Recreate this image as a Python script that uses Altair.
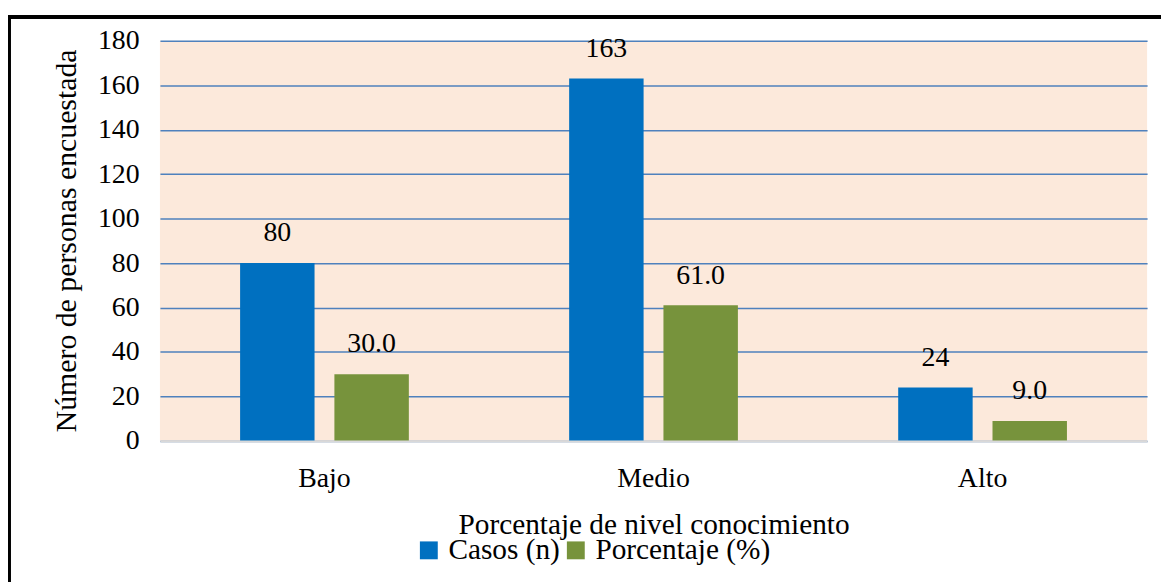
import altair as alt
import pandas as pd

categories = ["Bajo", "Medio", "Alto"]
series = ["Casos (n)", "Porcentaje (%)"]
casos = [80, 163, 24]
porcentaje = [30.0, 61.0, 9.0]
y_ticks = [0, 20, 40, 60, 80, 100, 120, 140, 160, 180]

rows = []
for c, n, p in zip(categories, casos, porcentaje):
    rows.append({"nivel": c, "serie": series[0], "valor": n, "etiqueta": f"{n}"})
    rows.append({"nivel": c, "serie": series[1], "valor": p, "etiqueta": f"{p:.1f}"})
df = pd.DataFrame(rows)

FONT = "Liberation Serif"
W, H = 994, 403
PAD_L, PAD_T = 153, 31

x = alt.X("nivel:N", sort=categories, scale=alt.Scale(paddingInner=0, paddingOuter=0),
          axis=alt.Axis(title="Porcentaje de nivel conocimiento", labelAngle=0, ticks=False,
                        domainColor="#D9D9D9", domainWidth=2, labelPadding=24,
                        titleY=70, titleBaseline="top", titleFontSize=29.5, zindex=1))
xo = alt.XOffset("serie:N", sort=series,
                 scale=alt.Scale(paddingInner=0.2105, paddingOuter=0.85))
color = alt.Color("serie:N", sort=series,
                  scale=alt.Scale(domain=series, range=["#0070C0", "#77933C"]),
                  legend=alt.Legend(title=None, orient="none", direction="horizontal",
                                    legendX=256, legendY=498, symbolType="square",
                                    symbolSize=324, symbolStrokeWidth=0,
                                    labelFontSize=29.5, labelFont=FONT, labelOffset=5,
                                    labelLimit=0, columnPadding=1, padding=0,
                                    labelColor="black"))
y = alt.Y("valor:Q", scale=alt.Scale(domain=[0, 180], nice=False),
          axis=alt.Axis(title="Número de personas encuestada", values=y_ticks, ticks=False,
                        domain=False, labelPadding=21, gridColor="#4F81BD", gridWidth=1.5,
                        titleX=-94, titleY=201, titleAngle=-90, titleBaseline="middle",
                        titleAlign="center", titleFontSize=30))

bars = alt.Chart(df).mark_bar().encode(x=x, xOffset=xo, y=y, color=color)
labels = alt.Chart(df).mark_text(font=FONT, fontSize=28, dy=-22, baseline="alphabetic",
                                 color="black").encode(
    x=alt.X("nivel:N", sort=categories), xOffset=alt.XOffset("serie:N", sort=series),
    y=alt.Y("valor:Q"), text="etiqueta:N")

frame_df = pd.DataFrame({"k": [0]})
top_line = alt.Chart(frame_df).mark_rule(color="black", strokeWidth=4, strokeCap="butt").encode(
    x=alt.value(-153), x2=alt.value(1010), y=alt.value(-24))
left_line = alt.Chart(frame_df).mark_rule(color="black", strokeWidth=4, strokeCap="butt").encode(
    x=alt.value(-152), y=alt.value(-26), y2=alt.value(560))

chart = alt.layer(bars, labels, top_line, left_line).properties(
    width=W, height=H,
    autosize=alt.AutoSizeParams(type="none"),
    padding={"left": PAD_L, "top": PAD_T, "right": 1161 - PAD_L - W, "bottom": 574 - PAD_T - H},
    background="white",
).configure_view(fill="#FCE9DB", stroke=None).configure_axis(
    labelFont=FONT, labelFontSize=28, labelColor="black",
    titleFont=FONT, titleFontSize=28, titleColor="black", titleFontWeight="normal",
).configure_text(font=FONT).configure_legend(labelFont=FONT, labelFontSize=29.5)

chart.save("out.html", embed_options={"renderer": "svg", "actions": False})
